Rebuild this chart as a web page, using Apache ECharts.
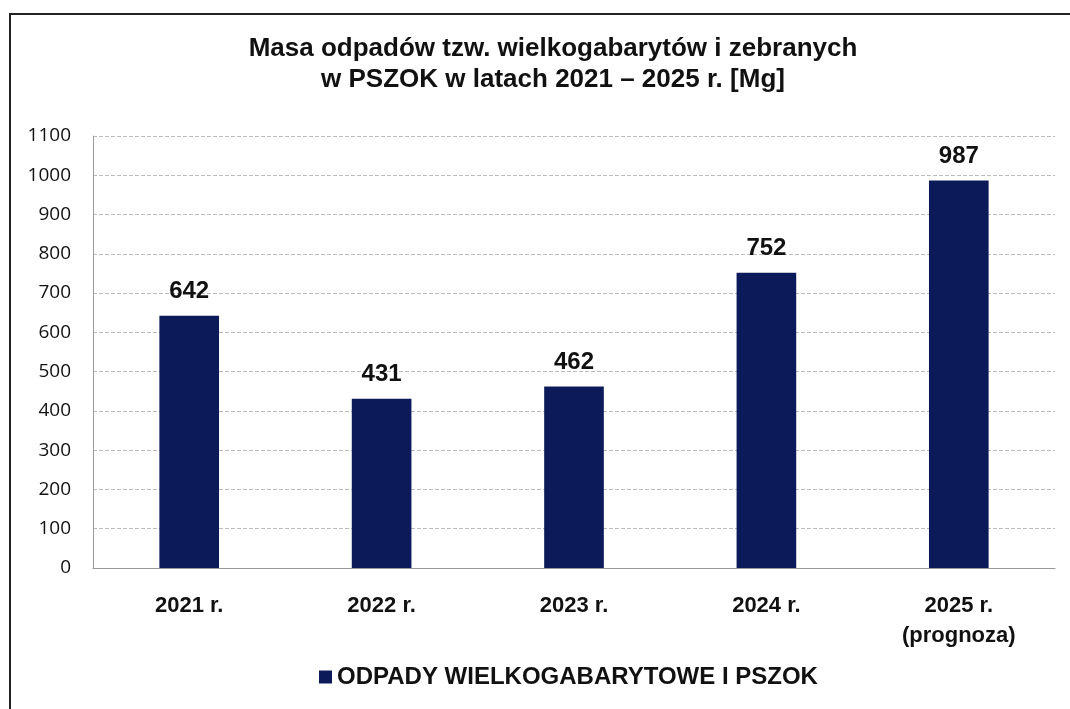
<!DOCTYPE html>
<html>
  <head>
    <meta charset="utf-8">
    <title>Masa odpadów wielkogabarytowych i PSZOK</title>
    <style>
      html, body {
        margin: 0;
        padding: 0;
        width: 100%;
        height: 100%;
        background: #fff;
      }
      #chart {
        width: 1070px;
        height: 709px;
      }
    </style>
  </head>
  <body>
    <div id="chart"></div>
    <script src="https://cdn.jsdelivr.net/npm/echarts@6/dist/echarts.min.js"></script>
    <script type="text/javascript">

      const years = ['2021 r.', '2022 r.', '2023 r.', '2024 r.', '2025 r.\n(prognoza)'];
      const masses = [642, 431, 462, 752, 987];
      const seriesName = 'ODPADY WIELKOGABARYTOWE I PSZOK';

      const barColor = '#0d1a5a';
      const arial = '"Liberation Sans", Arial, sans-serif';

      const chart = echarts.init(document.getElementById('chart'));

      chart.setOption({
        animation: false,
        title: {
          text: 'Masa odpadów tzw. wielkogabarytów i zebranych\nw PSZOK w latach 2021 – 2025 r. [Mg]',
          left: 548,
          textAlign: 'center',
          top: 28,
          textStyle: {
            fontFamily: arial,
            fontWeight: 'bold',
            fontSize: 26,
            lineHeight: 31,
            color: '#111'
          }
        },
        legend: {
          bottom: 15,
          left: 314,
          icon: 'rect',
          itemWidth: 13,
          itemHeight: 13,
          itemGap: 4,
          textStyle: {
            fontFamily: arial,
            fontWeight: 'bold',
            fontSize: 24,
            color: '#111'
          },
          data: [seriesName]
        },
        grid: {
          left: 93,
          right: 15,
          top: 136,
          bottom: 141,
          containLabel: false
        },
        xAxis: {
          type: 'category',
          data: years,
          axisLine: { lineStyle: { color: '#999', width: 1 } },
          axisTick: { show: false },
          axisLabel: {
            margin: 23,
            fontFamily: arial,
            fontWeight: 'bold',
            fontSize: 22,
            lineHeight: 30,
            color: '#111'
          }
        },
        yAxis: {
          type: 'value',
          min: 0,
          max: 1100,
          interval: 100,
          axisLine: { show: true, lineStyle: { color: '#999', width: 1 } },
          axisTick: { show: false },
          splitLine: { lineStyle: { color: '#bbb', type: [4, 2], width: 1 } },
          axisLabel: {
            margin: 22,
            formatter: v => String(v),
            fontFamily: '"Open Sans", "Noto Sans", sans-serif',
            fontSize: 19,
            color: '#111'
          }
        },
        series: [{
          name: seriesName,
          type: 'bar',
          data: masses,
          barWidth: '31%',
          itemStyle: { color: barColor },
          label: {
            show: true,
            position: 'top',
            distance: 12,
            fontFamily: arial,
            fontWeight: 'bold',
            fontSize: 24,
            color: '#111'
          }
        }],
        graphic: [
          {
            type: 'line',
            shape: { x1: 9, y1: 14, x2: 1070, y2: 14 },
            style: { stroke: '#222', lineWidth: 2 }
          },
          {
            type: 'line',
            shape: { x1: 10, y1: 14, x2: 10, y2: 709 },
            style: { stroke: '#222', lineWidth: 2 }
          }
        ]
      });
    </script>
  </body>
</html>
